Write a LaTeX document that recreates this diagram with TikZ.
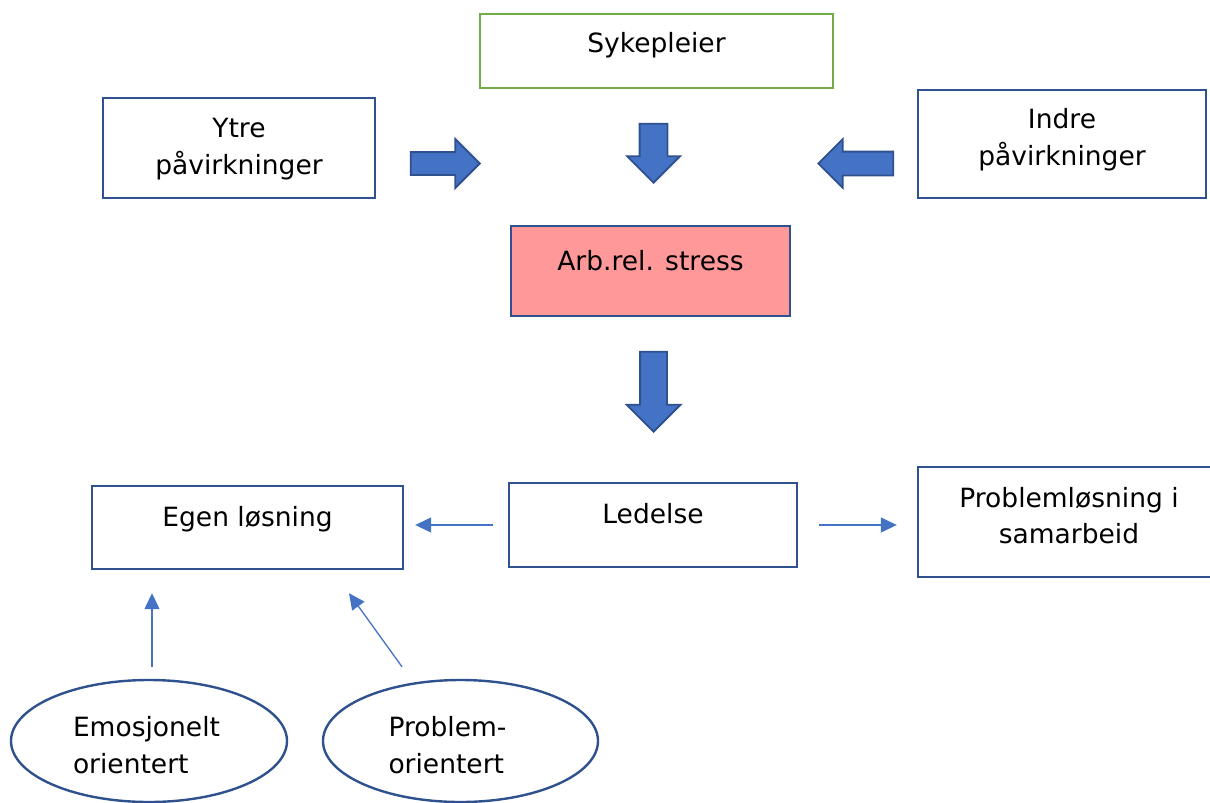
\documentclass[tikz,border=0pt]{standalone}
\usepackage{fontspec}
\setmainfont{DejaVu Sans}
\usepackage{tikz}
\usetikzlibrary{arrows.meta,shapes.arrows,shapes.geometric,positioning}
\usepackage{xcolor}
\definecolor{boxblue}{HTML}{2F528F}
\definecolor{arrblue}{HTML}{4472C4}
\definecolor{leafgreen}{HTML}{70AD47}
\definecolor{stressred}{HTML}{FF9999}

\begin{document}
\begin{tikzpicture}[x=1pt,y=-1pt,every node/.style={font=\fontsize{26.5}{36.5}\selectfont}]
  \tikzstyle{Box}=[draw=boxblue, line width=2.4pt, inner sep=0pt, align=center]
  \tikzstyle{Oval}=[ellipse, draw=boxblue, line width=2.4pt, inner sep=0pt, align=left,
    minimum width=276pt, minimum height=122pt, text height=20pt, text depth=28.6pt]
  \tikzstyle{BigArrow}=[single arrow, fill=arrblue, draw=boxblue, line width=1.8pt,
    inner xsep=0pt, anchor=tip]
  \tikzstyle{ThinArrow}=[arrblue, line width=1.3pt, -{Triangle[length=16pt,width=15pt]}]
  \useasboundingbox (0,0) rectangle (1210,803);

  % top row
  \node[Box, draw=leafgreen, minimum width=353pt, minimum height=74pt,
    text height=20pt, text depth=18pt] (syk) at (656.5,51) {Sykepleier};
  \node[Box, minimum width=272pt, minimum height=100pt,
    text height=56pt, text depth=4pt] (ytre) at (239,148) {Ytre\\påvirkninger};
  \node[Box, minimum width=288pt, minimum height=108pt,
    text height=56pt, text depth=14pt] (indre) at (1062,144) {Indre\\påvirkninger};
  \node[Box, fill=stressred, minimum width=279pt, minimum height=90pt,
    text height=20pt, text depth=22pt] (arb) at (650.5,271) {Arb.rel. stress};

  % block arrows
  \node[BigArrow, inner ysep=10.5pt, single arrow head extend=13pt,
    minimum height=69pt] (fraytre) at (481,163.5) {};
  \node[BigArrow, rotate=-90, inner ysep=13pt, single arrow head extend=12.5pt,
    minimum height=59pt] (frasyk) at (653.5,184) {};
  \node[BigArrow, rotate=180, inner ysep=11pt, single arrow head extend=12.5pt,
    minimum height=75pt] (fraindre) at (817,163.5) {};
  \node[BigArrow, rotate=-90, inner ysep=12.5pt, single arrow head extend=13.5pt,
    minimum height=80pt] (fraarb) at (653.5,433) {};

  % bottom row
  \node[Box, minimum width=311pt, minimum height=83pt,
    text height=20pt, text depth=23pt] (egen) at (247.5,527.5) {Egen løsning};
  \node[Box, minimum width=288pt, minimum height=84pt,
    text height=20pt, text depth=24pt] (led) at (653,525) {Ledelse};
  \node[Box, minimum width=302pt, minimum height=110pt,
    text height=56pt, text depth=13pt] (samarb) at (1069,522) {Problemløsning i\\samarbeid};

  \node[Oval, text width=152pt] (emo) at (149,741) {Emosjonelt\\orientert};
  \node[Oval, minimum width=275pt, text width=144pt] (probor) at (460.5,741) {Problem-\\orientert};

  \draw[ThinArrow, shorten <=15pt, shorten >=11pt] (led.west) -- (led.west -| egen.east);
  \draw[ThinArrow, shorten <=21pt, shorten >=20pt] (led.east) -- (led.east -| samarb.west);
  \draw[ThinArrow] ([shift={(3,-12)}]emo.north) -- ([shift={(-95.5,23)}]egen.south);
  \draw[ThinArrow] ([shift={(-58.5,-12)}]probor.north) -- ([shift={(101.5,23)}]egen.south);
\end{tikzpicture}
\end{document}
